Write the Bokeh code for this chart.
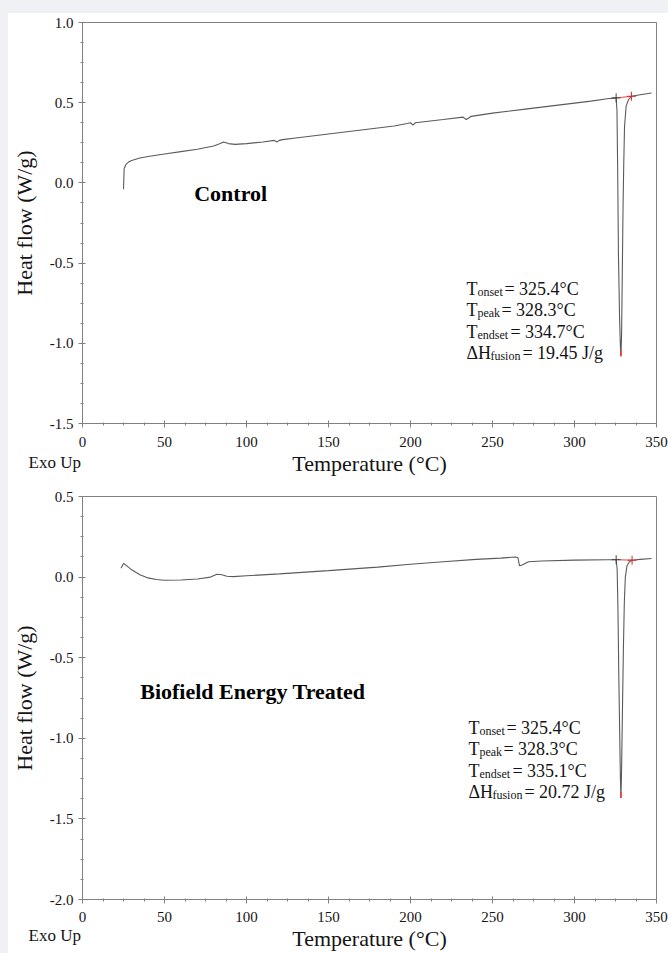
from bokeh.plotting import figure
from bokeh.models import Label, FixedTicker, PrintfTickFormatter, Range1d, Title
from bokeh.layouts import column
from bokeh.embed import file_html
from bokeh.resources import INLINE
import numpy as np

# ---------------- data ----------------
ctrl_T = [25.0, 25.4, 26.5, 28, 30, 35, 40, 50, 60, 70, 80, 84, 86, 89, 93, 100, 110, 117, 118.5, 120, 122,
          130, 150, 170, 190, 198, 200, 201.5, 203, 220, 232, 234, 235.5, 237, 250, 270, 290, 310, 320,
          325.4, 325.9, 326.3, 326.8, 327.5, 328.0, 328.3, 328.7, 329.1, 329.6, 330.0, 330.5, 331.5,
          333.0, 334.7, 340, 347]
ctrl_HF = [-0.04, 0.09, 0.115, 0.13, 0.14, 0.155, 0.165, 0.18, 0.195, 0.21, 0.23, 0.245, 0.255, 0.245, 0.24,
           0.245, 0.255, 0.265, 0.255, 0.265, 0.27, 0.28, 0.305, 0.33, 0.355, 0.37, 0.375, 0.36, 0.375,
           0.395, 0.41, 0.395, 0.405, 0.415, 0.435, 0.46, 0.485, 0.51, 0.525, 0.53, 0.45, 0.1, -0.45,
           -0.85, -1.02, -1.08, -0.95, -0.6, -0.15, 0.1, 0.35, 0.48, 0.52, 0.54, 0.55, 0.56]

trt_T = [23.5, 25, 27, 30, 35, 40, 45, 50, 60, 70, 78, 82, 85, 88, 92, 100, 120, 150, 180, 200, 220, 240,
         255, 264, 265.5, 266.5, 268, 272, 280, 300, 320, 325.4, 326.0, 326.5, 327.0, 327.6, 328.0, 328.3,
         328.7, 329.2, 329.8, 330.4, 331.0, 332.0, 333.5, 335.1, 340, 347]
trt_HF = [0.055, 0.085, 0.07, 0.045, 0.015, -0.005, -0.015, -0.02, -0.018, -0.012, 0.0, 0.018, 0.015, 0.005,
          0.003, 0.008, 0.02, 0.04, 0.062, 0.08, 0.095, 0.11, 0.118, 0.125, 0.12, 0.07, 0.075, 0.095, 0.1,
          0.105, 0.108, 0.108, 0.05, -0.2, -0.6, -1.0, -1.25, -1.37, -1.2, -0.85, -0.45, -0.15, 0.0, 0.07,
          0.095, 0.105, 0.11, 0.115]

x_ticks = [0, 50, 100, 150, 200, 250, 300, 350]
ctrl_y_ticks = [-1.5, -1.0, -0.5, 0.0, 0.5, 1.0]
trt_y_ticks = [-2.0, -1.5, -1.0, -0.5, 0.0, 0.5]

ctrl_onset, ctrl_peak, ctrl_endset, ctrl_dH = 325.4, 328.3, 334.7, 19.45
trt_onset, trt_peak, trt_endset, trt_dH = 325.4, 328.3, 335.1, 20.72

SERIF = "Liberation Serif"
GREY = "#808080"
TXT = "#141414"
LIFT = 7  # px: visual baseline correction for labels


def make_panel(T, HF, yr, yticks, name, name_xy, stats, ann_xy, height, borders, tick_standoff,
               exo_standoff):
    left, right, top, bottom = borders
    p = figure(width=660, height=height, x_range=Range1d(0, 350), y_range=Range1d(*yr),
               output_backend="svg", toolbar_location=None,
               min_border_left=left, min_border_right=right, min_border_top=top, min_border_bottom=bottom)
    p.background_fill_color = "white"
    p.border_fill_color = "white"
    p.outline_line_color = GREY
    p.grid.visible = False

    minor_x = [v for v in np.arange(0, 350.01, 12.5) if v not in x_ticks]
    p.xaxis.ticker = FixedTicker(ticks=x_ticks, minor_ticks=minor_x)
    minor_y = [v for v in np.arange(yr[0], yr[1] + 0.001, 0.125) if round(v, 3) not in yticks]
    p.yaxis.ticker = FixedTicker(ticks=yticks, minor_ticks=minor_y)
    p.xaxis.formatter = PrintfTickFormatter(format="%d")
    p.yaxis.formatter = PrintfTickFormatter(format="%.1f")

    for ax in (p.xaxis, p.yaxis):
        ax.axis_line_color = GREY
        ax.major_tick_line_color = GREY
        ax.minor_tick_line_color = GREY
        ax.major_tick_in = 3
        ax.major_tick_out = 4
        ax.minor_tick_in = 1
        ax.minor_tick_out = 2
        ax.major_label_text_font = SERIF
        ax.major_label_text_font_size = "15px"
        ax.major_label_text_color = TXT
        ax.axis_label_text_font = SERIF
        ax.axis_label_text_font_size = "22px"
        ax.axis_label_text_font_style = "normal"
        ax.axis_label_text_color = TXT
    p.xaxis.major_label_standoff = tick_standoff
    p.yaxis.major_label_standoff = 5
    p.yaxis.axis_label = "Heat flow (W/g)"
    p.yaxis.axis_label_standoff = 10
    p.xaxis.axis_label = "Temperature (°C)"
    p.xaxis.axis_label_standoff = 1

    # "Exo Up" note under the left end of the x axis
    p.add_layout(Title(text="Exo Up", align="left", offset=-54, vertical_align="top",
                       standoff=exo_standoff, text_font=SERIF, text_font_size="17px",
                       text_font_style="normal", text_color=TXT), "below")

    # curve
    p.line(T, HF, line_color="#5a5a5a", line_width=1.1)

    onset, peak, endset, dH = stats
    y_on = float(np.interp(onset, T, HF))
    y_end = float(np.interp(endset, T, HF))
    p.segment(x0=[onset], y0=[y_on], x1=[endset], y1=[y_end], line_color="#e8484a", line_width=1)
    p.scatter([onset], [y_on], marker="cross", size=9, line_color="#444444", line_width=1)
    p.scatter([endset], [y_end], marker="cross", size=9, line_color="#d62728", line_width=1)
    hf_min = min(HF)
    p.segment(x0=[peak], y0=[hf_min], x1=[peak], y1=[hf_min + 0.035], line_color="#ff3030", line_width=1.5)

    # sample name
    p.add_layout(Label(x=name_xy[0], y=name_xy[1], y_offset=LIFT, text=name, text_font=SERIF,
                       text_font_size="22px", text_font_style="bold", text_color="black",
                       text_baseline="alphabetic"))

    # annotation block
    ax_, ay_ = ann_xy
    rows = [
        ("T", "onset", "= %.1f°C" % onset, 11, 38),
        ("T", "peak", "= %.1f°C" % peak, 11, 35),
        ("T", "endset", "= %.1f°C" % endset, 11, 44),
        ("ΔH", "fusion", "= %.2f J/g" % dH, 24, 56),
    ]
    for i, (main, sub, rest, sub_off, rest_off) in enumerate(rows):
        yo = -21.5 * i + LIFT
        p.add_layout(Label(x=ax_, y=ay_, y_offset=yo, text=main, text_font=SERIF, text_font_size="18px",
                           text_color=TXT, text_baseline="alphabetic"))
        p.add_layout(Label(x=ax_, y=ay_, x_offset=sub_off, y_offset=yo - 3, text=sub, text_font=SERIF,
                           text_font_size="12px", text_color=TXT, text_baseline="alphabetic"))
        p.add_layout(Label(x=ax_, y=ay_, x_offset=rest_off, y_offset=yo, text=rest, text_font=SERIF,
                           text_font_size="18px", text_color=TXT, text_baseline="alphabetic"))
    return p


p1 = make_panel(ctrl_T, ctrl_HF, (-1.5, 1.0), ctrl_y_ticks, "Control", (68.1, -0.11),
                (ctrl_onset, ctrl_peak, ctrl_endset, ctrl_dH), (234.1, -0.702), 469, (73, 10, 9, 59),
                9, -52)
p2 = make_panel(trt_T, trt_HF, (-2.0, 0.5), trt_y_ticks, "Biofield Energy Treated", (35.2, -0.756),
                (trt_onset, trt_peak, trt_endset, trt_dH), (235.3, -0.979), 471, (71, 12, 14, 53),
                8, -55)

layout = column(p1, p2, spacing=0,
                styles={"background-color": "white",
                        "border-left": "8px solid #eff1f4",
                        "border-top": "13px solid #eff1f4"})
open("out.html", "w").write(file_html(layout, INLINE))
